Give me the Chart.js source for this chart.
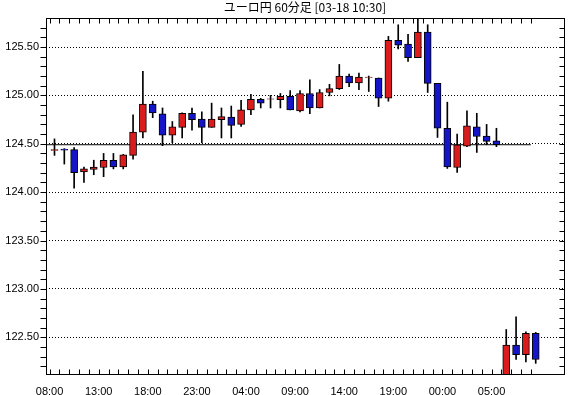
<!DOCTYPE html>
<html>
<head>
<meta charset="utf-8">
<script src="https://cdn.jsdelivr.net/npm/chart.js@4.4.1/dist/chart.umd.min.js"></script>
<style>
  html, body { margin: 0; padding: 0; background: #fff; }
  canvas { display: block; }
</style>
</head>
<body>
<canvas id="grafico" width="575" height="395"></canvas>
<script>
// Dados do gráfico (ユーロ円 60分足)
const titulo = 'ユーロ円 60分足 [03-18 10:30]';
const rotulosHora = ['08:00', '13:00', '18:00', '23:00', '04:00', '09:00', '14:00', '19:00', '00:00', '05:00'];

const aberturas = [
  124.43, 124.445, 124.44, 124.21, 124.235, 124.255, 124.33, 124.26, 124.38, 124.62,
  124.91, 124.81, 124.59, 124.67, 124.815, 124.755, 124.67, 124.75, 124.775, 124.70,
  124.85, 124.96, 124.96, 124.955, 124.99, 124.84, 125.02, 124.87, 125.03, 125.07,
  125.20, 125.13, 125.185, 125.18, 124.97, 125.57, 125.53, 125.39, 125.655, 125.125,
  124.66, 124.255, 124.475, 124.675, 124.58, 124.53, 122.10, 122.42, 122.32, 122.54
];
const maximas = [
  124.55, 124.45, 124.46, 124.26, 124.33, 124.40, 124.40, 124.39, 124.80, 125.25,
  124.94, 124.87, 124.73, 124.82, 124.87, 124.83, 124.92, 124.87, 124.89, 124.95,
  125.01, 124.97, 125.00, 125.02, 125.05, 125.05, 125.16, 125.06, 125.115, 125.32,
  125.22, 125.23, 125.20, 125.18, 125.61, 125.73, 125.63, 125.79, 125.73, 125.125,
  124.93, 124.60, 124.84, 124.815, 124.70, 124.66, 122.58, 122.71, 122.555, 122.55
];
const minimas = [
  124.38, 124.29, 124.04, 124.10, 124.18, 124.16, 124.24, 124.24, 124.34, 124.56,
  124.77, 124.48, 124.51, 124.56, 124.64, 124.51, 124.67, 124.56, 124.56, 124.68,
  124.80, 124.87, 124.87, 124.87, 124.85, 124.83, 124.81, 124.87, 124.995, 125.06,
  125.09, 125.06, 125.04, 124.885, 124.94, 125.48, 125.35, 125.39, 125.03, 124.565,
  124.245, 124.205, 124.47, 124.41, 124.49, 124.47, 122.10, 122.27, 122.245, 122.23
];
const fechamentos = [
  124.44, 124.435, 124.20, 124.24, 124.26, 124.33, 124.26, 124.385, 124.62, 124.91,
  124.82, 124.59, 124.675, 124.815, 124.75, 124.67, 124.755, 124.78, 124.69, 124.85,
  124.96, 124.92, 124.965, 124.99, 124.85, 125.02, 124.87, 125.03, 125.07, 125.20,
  125.13, 125.19, 125.19, 124.97, 125.57, 125.52, 125.39, 125.655, 125.125, 124.66,
  124.26, 124.49, 124.685, 124.575, 124.525, 124.49, 122.42, 122.32, 122.54, 122.27
];

// Linha de referência horizontal (preço)
const linhaReferencia = 124.49;
const fimLinhaReferencia = 48.5;

// Escalas
const eixoXMin = -0.865;
const eixoXMax = 51.88;
const eixoYMin = 122.12;
const eixoYMax = 125.80;

const corAlta = '#dc1c1c';
const corBaixa = '#1515c8';

// Preparar dados
const corpos = aberturas.map((a, i) => ({ x: i, y: [a, fechamentos[i]] }));
const pavios = minimas.map((m, i) => ({ x: i, y: [m, maximas[i]] }));
const coresCorpos = aberturas.map((a, i) => fechamentos[i] >= a ? corAlta : corBaixa);

function ehPrincipal(v) {
  return Math.abs(v * 2 - Math.round(v * 2)) < 1e-6;
}

// Moldura e marcas internas dos eixos
const molduraPlugin = {
  id: 'moldura',
  afterDatasetsDraw(chart) {
    const { ctx, chartArea: a, scales: { x, y } } = chart;
    const px = v => Math.round(v) + 0.5;
    ctx.save();
    ctx.strokeStyle = '#000';
    ctx.lineWidth = 1;
    ctx.beginPath();
    // marcas do eixo Y (esquerda para fora, direita para dentro)
    y.ticks.forEach(t => {
      const py = px(y.getPixelForValue(t.value));
      ctx.moveTo(px(a.left) - 6, py);
      ctx.lineTo(px(a.left), py);
      ctx.moveTo(px(a.right) - 5, py);
      ctx.lineTo(px(a.right), py);
    });
    // marcas do eixo X (limites das velas)
    for (let i = 0; i < aberturas.length; i++) {
      const xx = px(x.getPixelForValue(i - 0.5));
      ctx.moveTo(xx, px(a.top));
      ctx.lineTo(xx, px(a.top) + 5);
      ctx.moveTo(xx, px(a.bottom));
      ctx.lineTo(xx, px(a.bottom) - 5);
    }
    ctx.stroke();
    ctx.strokeRect(px(a.left), px(a.top), Math.round(a.right) - Math.round(a.left), Math.round(a.bottom) - Math.round(a.top));
    ctx.restore();
  }
};

const ctxGrafico = document.getElementById('grafico');

new Chart(ctxGrafico, {
  type: 'bar',
  data: {
    datasets: [
      {
        type: 'line',
        data: [{ x: eixoXMin, y: linhaReferencia }, { x: fimLinhaReferencia, y: linhaReferencia }],
        borderColor: '#000',
        borderWidth: 1,
        pointRadius: 0,
        order: 3
      },
      {
        data: pavios,
        backgroundColor: '#000',
        barThickness: 1,
        grouped: false,
        order: 2
      },
      {
        data: corpos,
        backgroundColor: coresCorpos,
        borderColor: '#000',
        borderWidth: 1,
        borderSkipped: false,
        barThickness: 7,
        grouped: false,
        order: 1
      }
    ]
  },
  options: {
    responsive: false,
    animation: false,
    layout: { padding: { top: 0, right: 11, bottom: 0, left: 0 } },
    plugins: {
      legend: { display: false },
      tooltip: { enabled: false },
      title: {
        display: true,
        text: titulo,
        fullSize: false,
        color: '#000',
        font: { family: '"Noto Sans CJK JP", sans-serif', size: 12, weight: 'normal', lineHeight: 1.2 },
        padding: { top: 0, bottom: 3.6 }
      }
    },
    scales: {
      x: {
        type: 'linear',
        min: eixoXMin,
        max: eixoXMax,
        offset: false,
        grid: { display: false },
        border: { display: false },
        afterBuildTicks: scale => {
          scale.ticks = rotulosHora.map((_, k) => ({ value: -0.5 + 5 * k }));
        },
        afterFit: scale => { scale.height = 21; },
        ticks: {
          autoSkip: false,
          maxRotation: 0,
          padding: 3,
          color: '#000',
          font: { family: '"Liberation Sans", Arial, sans-serif', size: 11 },
          callback: (value, index) => rotulosHora[index]
        }
      },
      y: {
        type: 'linear',
        min: eixoYMin,
        max: eixoYMax,
        afterBuildTicks: scale => {
          const marcas = [];
          for (let k = 1222; k <= 1257; k++) marcas.push({ value: k / 10 });
          scale.ticks = marcas;
        },
        afterFit: scale => { scale.width = 46; },
        grid: {
          drawTicks: false,
          color: ctx => ehPrincipal(ctx.tick.value) ? '#000' : 'rgba(0,0,0,0)'
        },
        border: { display: false, dash: [1, 2] },
        ticks: {
          autoSkip: false,
          padding: 7,
          color: '#000',
          font: { family: '"Liberation Sans", Arial, sans-serif', size: 11 },
          callback: value => ehPrincipal(value) ? value.toFixed(2) : ''
        }
      }
    }
  },
  plugins: [molduraPlugin]
});
</script>
</body>
</html>
